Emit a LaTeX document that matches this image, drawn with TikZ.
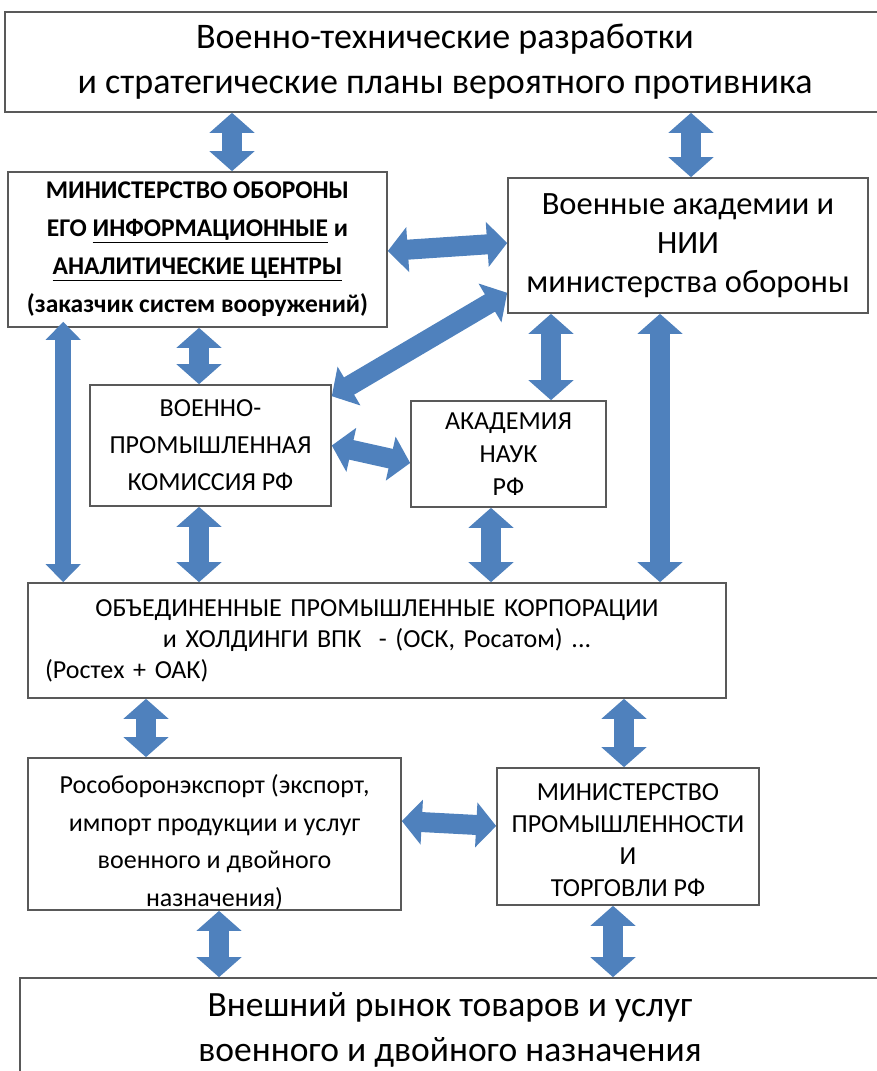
\documentclass[tikz,border=0pt]{standalone}
\usepackage{fontspec}
\setmainfont{Carlito}
\usetikzlibrary{arrows.meta}
\definecolor{arrblue}{RGB}{79,129,189}

\begin{document}
\begin{tikzpicture}[x=1pt, y=-1pt,
    box/.style={draw=black!65, line width=1.6pt, fill=white, align=center, inner sep=0pt},
    dbl/.style={draw=arrblue, line width=20pt, {Triangle[length=20pt, width=44pt]}-{Triangle[length=20pt, width=44pt]}},
    dblthin/.style={draw=arrblue, line width=16pt, {Triangle[length=18pt, width=34pt]}-{Triangle[length=18pt, width=34pt]}}]
    \useasboundingbox (0,0) rectangle (876,1071);
    \node (top) [box, minimum width=880pt, minimum height=100pt, font=\fontsize{36}{45}\selectfont] at (445,62) {Военно-технические разработки\\и стратегические планы вероятного противника};
    \node (mo) [box, minimum width=379pt, minimum height=155pt, font=\bfseries\fontsize{25.5}{38}\selectfont] at (197.5,249.5) {МИНИСТЕРСТВО ОБОРОНЫ\\ЕГО \underline{ИНФОРМАЦИОННЫЕ} и\\\underline{АНАЛИТИЧЕСКИЕ ЦЕНТРЫ}\\(заказчик систем вооружений)};
    \node (va) [box, minimum width=360pt, minimum height=135pt, font=\fontsize{32.5}{39}\selectfont] at (688,245.5) {Военные академии и\\НИИ\\министерства обороны};
    \node (vpk) [box, minimum width=241pt, minimum height=121pt, font=\fontsize{26}{37}\selectfont] at (210.5,445.5) {ВОЕННО-\\ПРОМЫШЛЕННАЯ\\КОМИССИЯ РФ};
    \node (an) [box, minimum width=195pt, minimum height=106pt, font=\fontsize{26}{33}\selectfont] at (508.5,454) {АКАДЕМИЯ\\НАУК\\РФ};
    \node (opk) [box, minimum width=698pt, minimum height=115pt, text width=664pt, font=\fontsize{26}{31}\selectfont] at (377,640.5) {ОБЪЕДИНЕННЫЕ ПРОМЫШЛЕННЫЕ КОРПОРАЦИИ\\и ХОЛДИНГИ ВПК \ - (ОСК, Росатом) ...\\\makebox[\linewidth][l]{(Ростех + ОАК)}};
    \node (roe) [box, minimum width=373pt, minimum height=152pt, font=\fontsize{26}{37.5}\selectfont] at (214.5,834) {\rule{0pt}{36pt}Рособоронэкспорт (экспорт,\\импорт продукции и услуг\\военного и двойного\\назначения)};
    \node (mpt) [box, minimum width=262pt, minimum height=137pt, font=\fontsize{26}{32}\selectfont] at (628,836.5) {\rule{0pt}{24pt}МИНИСТЕРСТВО\\ПРОМЫШЛЕННОСТИ\\И\\ТОРГОВЛИ РФ};
    \node (bot) [box, minimum width=860pt, minimum height=104pt, font=\fontsize{35.5}{45}\selectfont] at (450,1030) {Внешний рынок товаров и услуг\\военного и двойного назначения};
    \draw[dbl] ([xshift=-213pt]top.south) -- ([xshift=34.5pt]mo.north);
    \draw[dbl] ([xshift=246pt]top.south) -- ([xshift=3pt]va.north);
    \draw[dbl] ([yshift=-1.5pt]mo.east) -- ([yshift=2.5pt]va.west);
    \draw[dbl] ([yshift=21pt]va.south west) -- ([yshift=-12pt]vpk.north east);
    \draw[dbl] ([xshift=1.5pt]mo.south) -- ([xshift=-11.5pt]vpk.north);
    \draw[dblthin] ([xshift=56pt,yshift=6pt]mo.south west) -- ([xshift=36pt]opk.north west);
    \draw[dbl] ([xshift=-137pt]va.south) -- ([xshift=42.5pt]an.north);
    \draw[dbl] ([xshift=-28pt]va.south) -- ([xshift=283pt]opk.north);
    \draw[dbl] (vpk.east) -- ([yshift=-9pt]an.west);
    \draw[dbl] ([xshift=-11.5pt]vpk.south) -- ([xshift=-178pt]opk.north);
    \draw[dbl] ([xshift=-17.5pt]an.south) -- ([xshift=114pt]opk.north);
    \draw[dbl] ([xshift=-231pt]opk.south) -- ([xshift=-68.5pt]roe.north);
    \draw[dbl] ([xshift=247pt]opk.south) -- ([xshift=-4pt]mpt.north);
    \draw[dbl] ([yshift=13pt]roe.east) -- ([yshift=10.5pt]mpt.west);
    \draw[dbl] ([xshift=4.5pt]roe.south) -- ([xshift=-231pt]bot.north);
    \draw[dbl] ([xshift=-15pt]mpt.south) -- ([xshift=163pt]bot.north);
\end{tikzpicture}
\end{document}
